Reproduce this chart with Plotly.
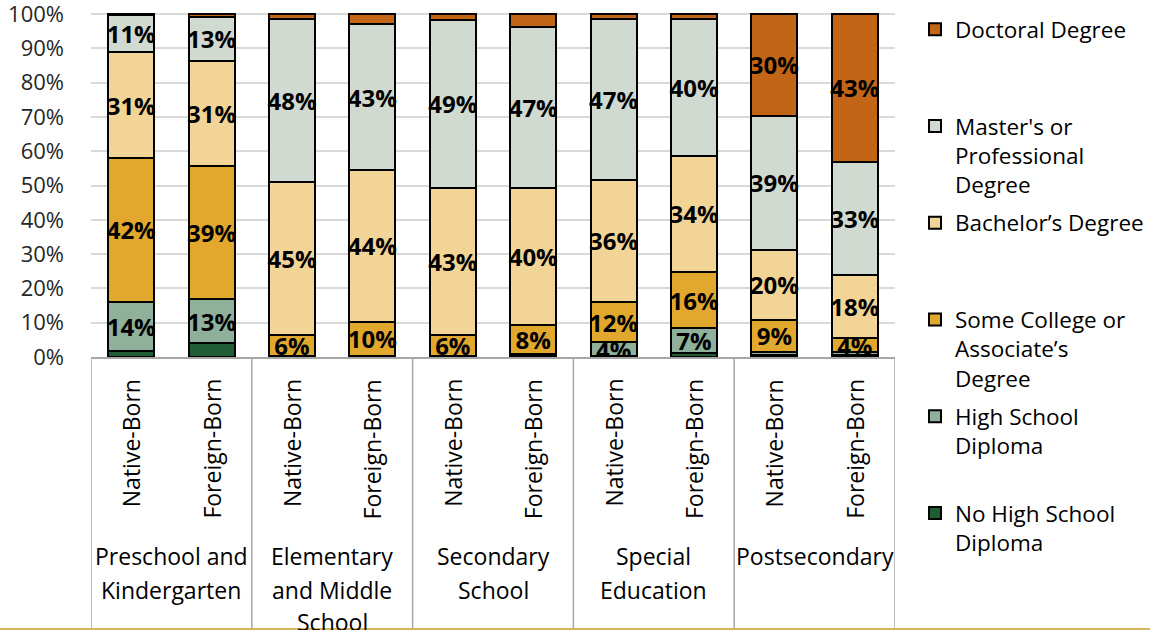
import plotly.graph_objects as go

# ---------------- data ----------------
groups = ["Preschool and<br>Kindergarten", "Elementary<br>and Middle<br>School",
          "Secondary<br>School", "Special<br>Education", "Postsecondary"]
sub_labels = ["Native-Born", "Foreign-Born"] * 5

no_hs    = [1.8, 4.0, 0.1, 0.2, 0.1, 0.3, 0.3, 1.3, 0.5, 0.6]
hs       = [14.3, 12.8, 0.2, 0.2, 0.2, 0.5, 4.0, 7.1, 1.0, 0.9]
some_col = [42.0, 39.0, 6.0, 9.9, 6.0, 8.4, 11.8, 16.4, 9.3, 3.9]
bachelor = [30.7, 30.6, 44.7, 44.2, 43.1, 40.2, 35.6, 33.9, 20.4, 18.4]
master   = [11.0, 12.8, 47.6, 42.6, 48.8, 46.9, 46.9, 39.8, 39.1, 33.1]
doctoral = [0.2, 0.8, 1.4, 2.9, 1.8, 3.7, 1.4, 1.5, 29.7, 43.1]

series_names = ["No High School<br>Diploma<br> ",
                "High School<br>Diploma<br> ",
                "Some College or<br>Associate’s<br>Degree",
                "Bachelor’s Degree<br> <br> ",
                "Master's or<br>Professional<br>Degree",
                "Doctoral Degree<br> <br> "]
series_values = [no_hs, hs, some_col, bachelor, master, doctoral]
series_colors = ["#1F5E34", "#8FB09B", "#E2A82E", "#F1D496", "#D0DAD1", "#C26517"]
show_labels = [False, True, True, True, True, True]

y_tickvals = list(range(0, 101, 10))
y_ticktext = [f"{v}%" for v in y_tickvals]

FONT = "Open Sans"

# ---------------- layout helpers ----------------
W, H = 1150, 630
YMAX = 100.6
L, R, B = 91, 255, 273
PH = 343 * YMAX / 100
T = H - B - PH
PW = W - L - R


def py(p):
    return (H - B - p) / PH


def pxp(p):
    return (p - L) / PW


xpos = list(range(len(sub_labels)))
n_series = len(series_names)

fig = go.Figure()
for k, (name, vals, col, lab) in enumerate(zip(series_names, series_values, series_colors, show_labels)):
    txt = [(f"{round(v)}%" if (lab and v >= 3.85) else "") for v in vals]
    fig.add_trace(go.Bar(
        x=xpos, y=vals, name=name, legendgroup=name, legendrank=n_series - k,
        width=0.572,
        marker=dict(color=col, line=dict(color="black", width=2)),
        text=txt, textposition="inside", insidetextanchor="middle",
        textangle=0, constraintext="none",
        insidetextfont=dict(family=FONT, size=24, color="black", weight="bold"),
        hoverinfo="skip",
    ))

annotations = []
for i, lab in enumerate(sub_labels):
    annotations.append(dict(
        x=xpos[i], xref="x", y=py(377), yref="paper", text=lab, textangle=-90,
        xanchor="center", yanchor="top", showarrow=False,
        font=dict(family=FONT, size=23, color="black")))

line_y = [556, 590, 622]
for g, grp in enumerate(groups):
    for k, line in enumerate(grp.split("<br>")):
        annotations.append(dict(
            x=(xpos[2 * g] + xpos[2 * g + 1]) / 2, xref="x", y=py(line_y[k]), yref="paper",
            text=line, xanchor="center", yanchor="middle", showarrow=False,
            font=dict(family=FONT, size=23, color="black")))

shapes = []
for d in range(len(groups) + 1):
    xd = -0.5 + 2 * d
    shapes.append(dict(type="line", xref="x", yref="paper", x0=xd, x1=xd,
                       y0=0, y1=py(H), line=dict(color="#A6A6A6", width=1.5)))
shapes.append(dict(type="line", xref="paper", yref="paper", x0=pxp(0), x1=pxp(W),
                   y0=py(629), y1=py(629), line=dict(color="#D6B656", width=2)))

fig.update_layout(
    width=W, height=H,
    margin=dict(l=L, r=R, t=T, b=B, autoexpand=False),
    barmode="stack",
    plot_bgcolor="white", paper_bgcolor="white",
    font=dict(family=FONT, size=22, color="black"),
    showlegend=True,
    legend=dict(xref="container", yref="container",
                x=915 / W, y=1 - 8 / H, xanchor="left", yanchor="top",
                traceorder="grouped", valign="top", maxheight=620,
                font=dict(family=FONT, size=22.5, color="black"),
                bgcolor="rgba(0,0,0,0)", tracegroupgap=6),
    xaxis=dict(range=[-0.5, len(sub_labels) - 0.5], showticklabels=False, showgrid=False,
               zeroline=False, showline=True, linecolor="#A6A6A6", linewidth=1.5,
               ticks=""),
    yaxis=dict(range=[0, YMAX], tickvals=y_tickvals, ticktext=y_ticktext,
               showgrid=True, gridcolor="#D9D9D9", gridwidth=1.5, zeroline=False,
               showline=False, ticks="", ticklabelstandoff=26, ticklabeloverflow="allow",
               tickfont=dict(family=FONT, size=22, color="#262626")),
    annotations=annotations,
    shapes=shapes,
)

fig.write_html("out.html", config={"displayModeBar": False},
               post_script="document.body.style.margin='0';document.body.style.overflow='hidden';")
